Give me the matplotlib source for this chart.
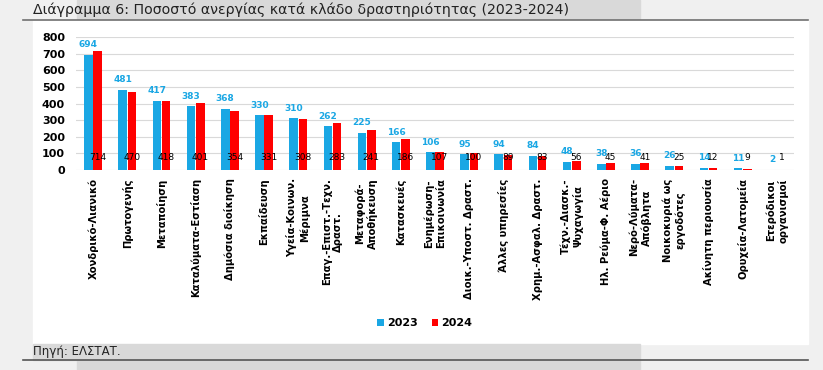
import matplotlib
matplotlib.use("Agg")
import matplotlib.pyplot as plt
from matplotlib.patches import Rectangle
from matplotlib.lines import Line2D
import numpy as np

plt.rcParams["font.family"] = ["DejaVu Sans"]

sectors = [
    "Χονδρικό-Λιανικό", "Πρωτογενής", "Μεταποίηση", "Καταλύματα-Εστίαση",
    "Δημόσια διοίκηση", "Εκπαίδευση", "Υγεία-Κοινων.\nΜέριμνα",
    "Επαγ.-Επιστ.-Τεχν.\nΔραστ.", "Μεταφορά-\nΑποθήκευση", "Κατασκευές",
    "Ενημέρωση-\nΕπικοινωνία", "Διοικ.-Υποστ. Δραστ.", "Άλλες υπηρεσίες",
    "Χρημ.-Ασφαλ. Δραστ.", "Τέχν.-Διασκ.-\nΨυχαγωγία", "Ηλ. Ρεύμα-Φ. Αέριο",
    "Νερό-Λύματα-\nΑπόβλητα", "Νοικοκυριά ως\nεργοδότες", "Ακίνητη περιουσία",
    "Ορυχεία-Λατομεία", "Ετερόδικοι\nοργανισμοί",
]
y2023 = [694, 481, 417, 383, 368, 330, 310, 262, 225, 166, 106, 95, 94, 84, 48, 38, 36, 26, 14, 11, 2]
y2024 = [714, 470, 418, 401, 354, 331, 308, 283, 241, 186, 107, 100, 89, 83, 56, 45, 41, 25, 12, 9, 1]

blue = "#1aa7e4"
red = "#ff0000"

W, H = 823, 370
fig = plt.figure(figsize=(W / 100, H / 100), dpi=100)
fig.patch.set_facecolor("#f0f0f0")


def px_rect(x0, y0, x1, y1, color):
    # rectangle given in pixel coords (top-left origin)
    fig.patches.append(Rectangle((x0 / W, 1 - y1 / H), (x1 - x0) / W, (y1 - y0) / H,
                                 transform=fig.transFigure, color=color, zorder=-5))


def px_hline(y, x0, x1, color, lw=1.2):
    fig.lines.append(Line2D([x0 / W, x1 / W], [1 - y / H, 1 - y / H],
                            transform=fig.transFigure, color=color, lw=lw, zorder=-4))


# frame pieces
px_rect(77, 0, 640, 20, "#d9d9d9")
px_rect(33, 20, 808, 344, "white")
px_rect(33, 344, 640, 360, "#d9d9d9")
px_rect(77, 360, 640, 370, "#d9d9d9")
px_hline(20, 23, 808, "#707070")
px_hline(360, 23, 808, "#555555")

fig.text(33 / W, 1 - 10 / H, "Διάγραμμα 6: Ποσοστό ανεργίας κατά κλάδο δραστηριότητας (2023-2024)",
         fontsize=10.2, va="center", ha="left", color="#222222")
fig.text(33 / W, 1 - 352 / H, "Πηγή: ΕΛΣΤΑΤ.", fontsize=8.5, va="center", ha="left", color="#222222")

ax = fig.add_axes([76 / W, 1 - 170 / H, (794 - 76) / W, (170 - 37) / H])
ax.set_facecolor("white")
x = np.arange(len(sectors))
w = 0.25
off = 0.135
b1 = ax.bar(x - off, y2023, w, color=blue, label="2023", zorder=3)
b2 = ax.bar(x + off, y2024, w, color=red, label="2024", zorder=3)

for xi, v in zip(x, y2023):
    ax.annotate(str(v), (xi - off, v), xytext=(0, 4), textcoords="offset points",
                ha="center", va="bottom", fontsize=6.5, color=blue, fontweight="semibold")
for xi, v in zip(x, y2024):
    ax.text(xi + off, 78, str(v), ha="center", va="center", fontsize=6.5, color="black", zorder=4)

ax.set_xlim(-0.5, len(sectors) - 0.5)
ax.set_ylim(0, 800)
ax.set_yticks(range(0, 801, 100))
ax.set_xticks(x)
ax.set_xticklabels(sectors, rotation=90, fontsize=7.2, fontweight="bold", ha="center", va="top",
                   multialignment="center")
for lbl in ax.get_yticklabels():
    lbl.set_fontweight("bold")
    lbl.set_fontsize(8)
ax.tick_params(axis="both", length=0)
ax.tick_params(axis="x", pad=6)
ax.tick_params(axis="y", pad=8)
ax.grid(axis="y", color="#d9d9d9", lw=0.8, zorder=0)
for s in ax.spines.values():
    s.set_visible(False)

fig.legend(handles=[b1, b2], loc="center", bbox_to_anchor=(425 / W, 1 - 323 / H), ncol=2,
           frameon=False, handlelength=0.6, handleheight=0.6, handletextpad=0.3, columnspacing=1.2,
           prop={"weight": "bold", "size": 8})

fig.savefig("out.png", dpi=100, facecolor=fig.get_facecolor())
